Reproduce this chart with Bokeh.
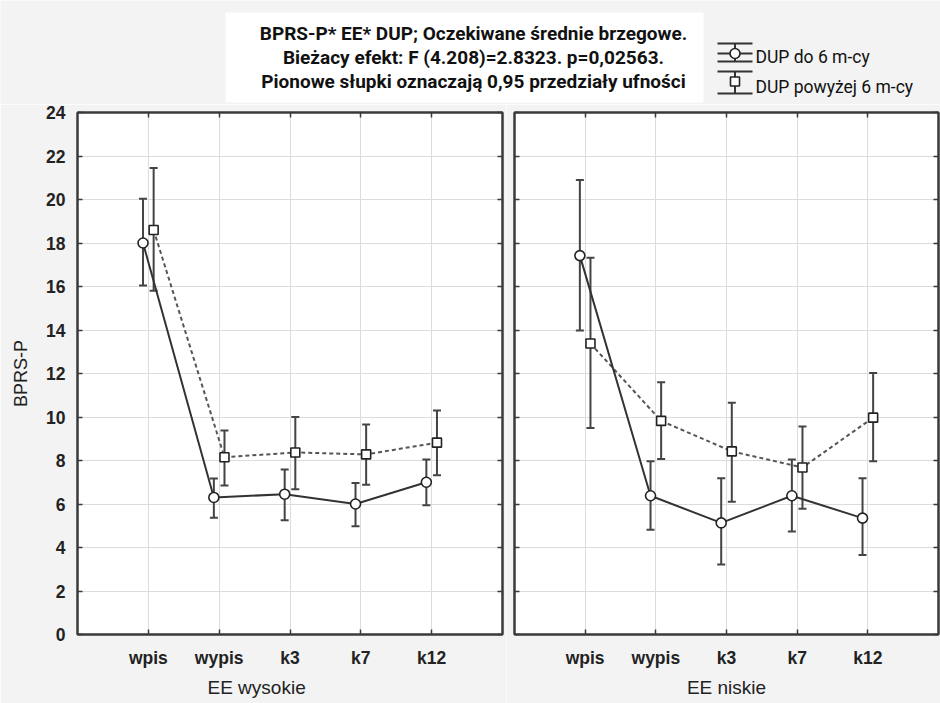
import numpy as np
from bokeh.plotting import figure
from bokeh.models import (Range1d, FixedTicker, LinearAxis, Whisker, TeeHead,
                          ColumnDataSource, Title)
from bokeh.layouts import column, row
from bokeh.core.properties import value
from bokeh.embed import file_html
from bokeh.resources import INLINE

# ---------------- data ----------------
categories = ["wpis", "wypis", "k3", "k7", "k12"]
y_ticks = list(range(0, 25, 2))

title_lines = [
    "BPRS-P* EE* DUP; Oczekiwane średnie brzegowe.",
    "Bieżacy efekt: F (4.208)=2.8323. p=0,02563.",
    "Pionowe słupki oznaczają 0,95 przedziały ufności",
]
legend_labels = ["DUP do 6 m-cy", "DUP powyżej 6 m-cy"]
panel_titles = ["EE wysokie", "EE niskie"]
y_title = "BPRS-P"

# EE wysokie
high_short_mean = [18.0, 6.3, 6.45, 6.0, 7.0]
high_short_low = [16.05, 5.37, 5.25, 4.98, 5.94]
high_short_up = [20.03, 7.17, 7.59, 6.96, 8.05]
high_long_mean = [18.6, 8.15, 8.37, 8.28, 8.82]
high_long_low = [15.8, 6.85, 6.68, 6.88, 7.32]
high_long_up = [21.45, 9.38, 10.0, 9.66, 10.3]

# EE niskie
low_short_mean = [17.42, 6.38, 5.13, 6.38, 5.35]
low_short_low = [13.98, 4.82, 3.22, 4.73, 3.66]
low_short_up = [20.9, 7.97, 7.18, 8.05, 7.18]
low_long_mean = [13.38, 9.82, 8.42, 7.68, 9.97]
low_long_low = [9.5, 8.07, 6.1, 5.78, 7.97]
low_long_up = [17.32, 11.6, 10.65, 9.56, 12.02]

# ---------------- style ----------------
BG = "#f3f3f3"
INK = "#222222"
FRAME = "#3a3a3a"
GRID = "#dcdcdc"
HEAD = "Roboto"
SANS = "Liberation Sans"
DODGE = 0.075


def style_ticks(ax):
    ax.major_tick_in = 5
    ax.major_tick_out = 0
    ax.minor_tick_line_color = None
    ax.axis_line_color = FRAME
    ax.axis_line_width = 2
    ax.major_tick_line_color = FRAME
    ax.major_tick_line_width = 1.5


def hide_labels(ax):
    ax.major_label_text_color = None
    ax.major_label_text_font_size = "1px"
    ax.major_label_standoff = 0


def hidden_axis(ticks):
    ax = LinearAxis(ticker=FixedTicker(ticks=ticks))
    style_ticks(ax)
    hide_labels(ax)
    return ax


def make_panel(s_mean, s_low, s_up, l_mean, l_low, l_up, width, mb_left, mb_right,
               left_labels, ptitle, palign, poffset):
    p = figure(width=width, height=599, x_range=Range1d(-1, 5), y_range=Range1d(0, 24),
               min_border_left=mb_left, min_border_right=mb_right,
               min_border_top=8, min_border_bottom=69,
               toolbar_location=None, output_backend="svg",
               background_fill_color="white", border_fill_color=BG)
    p.outline_line_color = FRAME
    p.outline_line_width = 2

    idx = np.arange(len(categories))
    xt = list(range(len(categories)))

    xa = p.xaxis[0]
    xa.ticker = FixedTicker(ticks=xt)
    xa.major_label_overrides = {i: c for i, c in enumerate(categories)}
    xa.major_label_text_font = SANS
    xa.major_label_text_font_style = "bold"
    xa.major_label_text_font_size = "17.5px"
    xa.major_label_text_color = INK
    xa.major_label_standoff = 13
    style_ticks(xa)

    ya = p.yaxis[0]
    ya.ticker = FixedTicker(ticks=y_ticks)
    style_ticks(ya)
    if left_labels:
        ya.major_label_text_font = SANS
        ya.major_label_text_font_style = "bold"
        ya.major_label_text_font_size = "17.5px"
        ya.major_label_text_color = INK
        ya.major_label_standoff = 12
        ya.axis_label = y_title
        ya.axis_label_text_font = SANS
        ya.axis_label_text_font_style = "normal"
        ya.axis_label_text_font_size = "18px"
        ya.axis_label_text_color = INK
        ya.axis_label_standoff = 12
    else:
        hide_labels(ya)

    p.add_layout(hidden_axis(y_ticks), "right")
    p.add_layout(hidden_axis(xt), "above")

    t = Title(text=ptitle, align=palign, offset=poffset, text_font=SANS,
              text_font_style="normal", text_font_size="19px", text_color=INK, standoff=9)
    p.add_layout(t, "below")

    p.xgrid.ticker = FixedTicker(ticks=xt)
    p.ygrid.ticker = FixedTicker(ticks=y_ticks)
    p.xgrid.grid_line_color = GRID
    p.ygrid.grid_line_color = GRID

    src_s = ColumnDataSource(dict(x=idx - DODGE, y=s_mean, lower=s_low, upper=s_up))
    src_l = ColumnDataSource(dict(x=idx + DODGE, y=l_mean, lower=l_low, upper=l_up))

    p.line("x", "y", source=src_l, line_color="#555555", line_width=2, line_dash="4 3")
    p.line("x", "y", source=src_s, line_color="#333333", line_width=2)

    for src in (src_s, src_l):
        w = Whisker(source=src, base="x", upper="upper", lower="lower", dimension="height",
                    line_color="#444444", line_width=2,
                    upper_head=TeeHead(size=8, line_color="#444444", line_width=2),
                    lower_head=TeeHead(size=8, line_color="#444444", line_width=2))
        p.add_layout(w)

    p.scatter("x", "y", source=src_s, marker="circle", size=10, fill_color="white",
              line_color=INK, line_width=1.6)
    p.scatter("x", "y", source=src_l, marker="square", size=9, fill_color="white",
              line_color=INK, line_width=1.6)
    return p


left = make_panel(high_short_mean, high_short_low, high_short_up,
                  high_long_mean, high_long_low, high_long_up,
                  width=506, mb_left=77, mb_right=4, left_labels=True,
                  ptitle=panel_titles[0], palign="left", poffset=130)

right = make_panel(low_short_mean, low_short_low, low_short_up,
                   low_long_mean, low_long_low, low_long_up,
                   width=434, mb_left=8, mb_right=2, left_labels=False,
                   ptitle=panel_titles[1], palign="center", poffset=0)

# ---------------- header (title box + legend) ----------------
hdr = figure(width=940, height=104, x_range=Range1d(0, 940), y_range=Range1d(0, 104),
             x_axis_type=None, y_axis_type=None, min_border=0,
             toolbar_location=None, output_backend="svg",
             background_fill_color=BG, border_fill_color=BG)
hdr.outline_line_color = None
hdr.grid.visible = False

hdr.quad(left=[225], right=[703], bottom=[2], top=[92], fill_color="white", line_color=None)
hdr.text(x=[473, 473, 473], y=[71, 47, 23], text=title_lines, text_align="center",
         text_baseline="middle", text_font=value(HEAD), text_font_style="bold",
         text_font_size="19px", text_color="#111111")

# legend icons
lx0, lx1, lxc = 717, 752, 734.5
hdr.segment(x0=[lx0, lx0, lxc, lx0], y0=[61, 43, 43, 51], x1=[lx1, lx1, lxc, lx1], y1=[61, 43, 61, 51],
            line_color="#333333", line_width=2)
hdr.segment(x0=[lx0, lx0, lxc], y0=[33, 11, 11], x1=[lx1, lx1, lxc], y1=[33, 11, 33],
            line_color="#333333", line_width=2)
hdr.scatter(x=[lxc], y=[51], marker="circle", size=10, fill_color="white", line_color=INK, line_width=1.6)
hdr.scatter(x=[lxc], y=[23], marker="square", size=9, fill_color="white", line_color=INK, line_width=1.6)
hdr.text(x=[755, 755], y=[48, 18], text=legend_labels, text_align="left", text_baseline="middle",
         text_font=value(HEAD), text_font_size="17.5px", text_color="#111111")

layout = column(hdr, row(left, right, spacing=0), spacing=0)
open("out.html", "w").write(file_html(layout, INLINE))
